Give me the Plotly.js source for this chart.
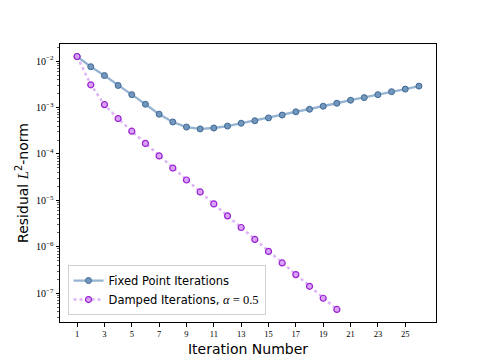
<!DOCTYPE html>
<html>
<head>
<meta charset="utf-8">
<script src="https://cdn.plot.ly/plotly-3.0.1.min.js"></script>
<style>
  html, body { margin: 0; padding: 0; background: #fff; }
  #chart { width: 484px; height: 363px; }
</style>
</head>
<body>
<div id="chart"></div>
<script>
// iteration counts and residuals
const fixedIters = [1, 2, 3, 4, 5, 6, 7, 8, 9, 10, 11, 12, 13, 14, 15, 16, 17, 18, 19, 20, 21, 22, 23, 24, 25, 26];
const fixedResidual = [1.26e-2, 7.6e-3, 4.9e-3, 3.0e-3, 1.9e-3, 1.18e-3, 7.2e-4, 4.9e-4, 3.8e-4, 3.47e-4,
  3.63e-4, 4.0e-4, 4.6e-4, 5.2e-4, 6.0e-4, 6.9e-4, 8.1e-4, 9.2e-4, 1.07e-3, 1.24e-3,
  1.44e-3, 1.64e-3, 1.9e-3, 2.2e-3, 2.5e-3, 2.9e-3];

const dampedIters = [1, 2, 3, 4, 5, 6, 7, 8, 9, 10, 11, 12, 13, 14, 15, 16, 17, 18, 19, 20];
const dampedResidual = [1.26e-2, 3.1e-3, 1.16e-3, 5.8e-4, 3.1e-4, 1.69e-4, 9.1e-5, 4.98e-5, 2.75e-5, 1.52e-5,
  8.4e-6, 4.65e-6, 2.61e-6, 1.44e-6, 7.97e-7, 4.49e-7, 2.52e-7, 1.41e-7, 7.8e-8, 4.47e-8];

const xTicks = [1, 3, 5, 7, 9, 11, 13, 15, 17, 19, 21, 23, 25];
const yExponents = [-7, -6, -5, -4, -3, -2];

const serif = "'Liberation Serif', 'DejaVu Serif', serif";
const sans = "'DejaVu Sans', sans-serif";

// major and minor tick positions for the log axis
const yTickVals = yExponents.map(e => Math.pow(10, e));
const yTickText = yExponents.map(e => '10<sup>\u2212' + (-e) + '</sup>');
const yMinorVals = [];
for (let e = -8; e <= -2; e++) {
    for (let m = 2; m <= 9; m++) yMinorVals.push(m * Math.pow(10, e));
}

const fixedTrace = {
    x: fixedIters,
    y: fixedResidual,
    type: 'scatter',
    mode: 'lines+markers',
    name: 'Fixed Point Iterations',
    line: { color: 'rgba(80,130,180,0.6)', width: 2.3 },
    marker: { size: 6, color: '#7296bc', line: { color: '#3e6a96', width: 1 } }
};

const dampedTrace = {
    x: dampedIters,
    y: dampedResidual,
    type: 'scatter',
    mode: 'lines+markers',
    name: 'Damped Iterations, <span style="font-family:' + serif + '; font-size:12.5px"><i>\u03b1</i> = 0.5</span>',
    line: { color: 'rgba(200,130,245,0.6)', width: 2.5, dash: 'dot' },
    marker: { size: 6, color: 'rgba(215,160,245,0.95)', line: { color: '#9a1fd0', width: 1.2 } }
};

const layout = {
    width: 484,
    height: 363,
    margin: { l: 60, r: 48, t: 44, b: 41 },
    paper_bgcolor: '#fff',
    plot_bgcolor: '#fff',
    showlegend: true,
    legend: {
        x: 0.02, y: 0.025, xanchor: 'left', yanchor: 'bottom',
        bgcolor: 'rgba(255,255,255,0.8)',
        bordercolor: '#d0d0d0', borderwidth: 1,
        font: { family: sans, size: 11.5, color: '#000' },
        tracegroupgap: 2
    },
    xaxis: {
        range: [-0.25, 27.25],
        tickmode: 'array',
        tickvals: xTicks,
        ticktext: xTicks.map(String),
        ticks: 'outside', ticklen: 3.5, tickwidth: 1, tickcolor: '#000',
        tickfont: { family: serif, size: 8.5, color: '#000' },
        showgrid: false, zeroline: false,
        showline: true, mirror: true, linecolor: '#000', linewidth: 1,
        title: { text: 'Iteration Number', font: { family: sans, size: 14, color: '#000' }, standoff: 6 }
    },
    yaxis: {
        type: 'log',
        range: [-7.62, -1.63],
        tickmode: 'array',
        tickvals: yTickVals,
        ticktext: yTickText,
        ticks: 'outside', ticklen: 3.5, tickwidth: 1, tickcolor: '#000',
        tickfont: { family: serif, size: 10, color: '#000' },
        minor: { tickmode: 'array', tickvals: yMinorVals, ticks: 'outside', ticklen: 2, tickwidth: 0.6, tickcolor: '#000', showgrid: false },
        showgrid: false, zeroline: false,
        showline: true, mirror: true, linecolor: '#000', linewidth: 1,
        title: {
            text: 'Residual <span style="font-family:' + serif + '; font-size:15px"><i>L</i></span><sup>2</sup>-norm',
            font: { family: sans, size: 14, color: '#000' }, standoff: 4
        }
    }
};

Plotly.newPlot('chart', [fixedTrace, dampedTrace], layout, { displayModeBar: false, staticPlot: true });
</script>
</body>
</html>
